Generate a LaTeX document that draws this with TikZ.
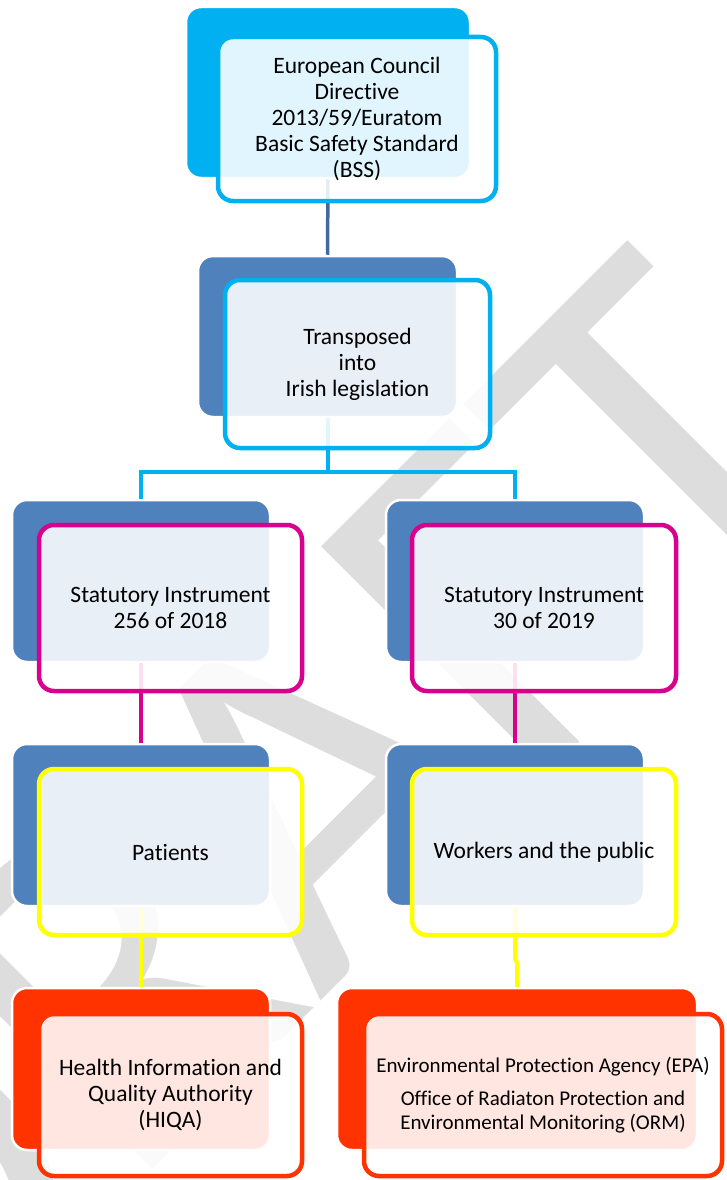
\documentclass[tikz,border=0pt]{standalone}
\usepackage{fontspec}
\setmainfont[Ligatures={NoCommon,NoRequired,NoContextual}]{Carlito}
\definecolor{cyanA}{RGB}{0,176,240}
\definecolor{steel}{RGB}{79,129,189}
\definecolor{linkA}{RGB}{65,106,160}
\definecolor{magA}{RGB}{217,0,141}
\definecolor{yelA}{RGB}{255,255,0}
\definecolor{redA}{RGB}{255,51,0}
\definecolor{wmark}{RGB}{221,221,221}
\tikzset{
  backbox/.style={rectangle, rounded corners=15pt, draw=white, line width=2.5pt, inner sep=0pt},
  frontbox/.style={rectangle, rounded corners=15pt, line width=4.5pt, fill=white, fill opacity=0.88, text opacity=1, inner sep=0pt, align=center, font=\fontsize{23.5}{26}\selectfont},
  conn/.style={line width=4pt},
  watermark/.style={text=wmark, inner sep=0pt, rotate=45, font=\fontsize{500}{500}\selectfont},
}
\begin{document}
\begin{tikzpicture}[x=1pt,y=-1pt]
\useasboundingbox (0,0) rectangle (726,1180);
\clip (0,0) rectangle (726,1180);
% watermark
\node[watermark] (wm) at (271,824) {DRAFT};
% back boxes
\node[backbox, fill=cyanA, minimum width=284pt, minimum height=171pt] (b1) at (328,92.5) {};
\node[backbox, fill=steel, minimum width=259pt, minimum height=161pt] (b2) at (327.5,336.5) {};
\node[backbox, fill=steel, minimum width=258pt, minimum height=162pt] (b3L) at (141,581) {};
\node[backbox, fill=steel, minimum width=258pt, minimum height=162pt] (b3R) at (515,581) {};
\node[backbox, fill=steel, minimum width=258pt, minimum height=162pt] (b4L) at (141,825) {};
\node[backbox, fill=steel, minimum width=258pt, minimum height=162pt] (b4R) at (515,825) {};
\node[backbox, fill=redA, minimum width=258pt, minimum height=162pt] (b5L) at (141,1069) {};
\node[backbox, fill=redA, minimum width=360pt, minimum height=162pt] (b5R) at (517,1069) {};
% connectors
\draw[linkA, line width=3.5pt] (b1.south) -- (b2.north);
\coordinate (junc) at (327.5,472);
\draw[cyanA, conn] (b2.south) -- (junc);
\draw[cyanA, conn] (b3L.north) |- (junc) -| (b3R.north);
\draw[magA, conn] (b3L.south) -- (b4L.north);
\draw[magA, conn] (b3R.south) -- (b4R.north);
\draw[yelA, conn] (b4L.south) -- (b5L.north);
\draw[yelA, conn, line join=round] (b4R.south) -- ++(0,52) -- ++(2,3) -- (b5R.north);
% front boxes
\node[frontbox, draw=cyanA, minimum width=278pt, minimum height=164pt] (f1) at (357,119)
  {European Council\\Directive\\2013/59/Euratom\\Basic Safety Standard\\(BSS)};
\node[frontbox, draw=cyanA, minimum width=265pt, minimum height=168pt] (f2) at (357.5,364)
  {Transposed\\into\\Irish legislation};
\node[frontbox, draw=magA, minimum width=263pt, minimum height=166pt] (f3L) at (170.5,608)
  {Statutory Instrument\\256 of 2018};
\node[frontbox, draw=magA, minimum width=264pt, minimum height=166pt] (f3R) at (544,608)
  {Statutory Instrument\\30 of 2019};
\node[frontbox, draw=yelA, minimum width=263pt, minimum height=166pt] (f4L) at (170.5,852)
  {Patients};
\node[frontbox, draw=yelA, minimum width=264pt, minimum height=166pt] (f4R) at (544,852)
  {Workers and the public};
\node[frontbox, draw=redA, minimum width=263pt, minimum height=162pt] (f5L) at (170.5,1095)
  {Health Information and\\Quality Authority\\(HIQA)};
\node[frontbox, draw=redA, minimum width=358pt, minimum height=162pt, font=\fontsize{21}{24}\selectfont] (f5R) at (543,1095)
  {Environmental Protection Agency (EPA)\\[9pt]Office of Radiaton Protection and\\Environmental Monitoring (ORM)};
\end{tikzpicture}
\end{document}
